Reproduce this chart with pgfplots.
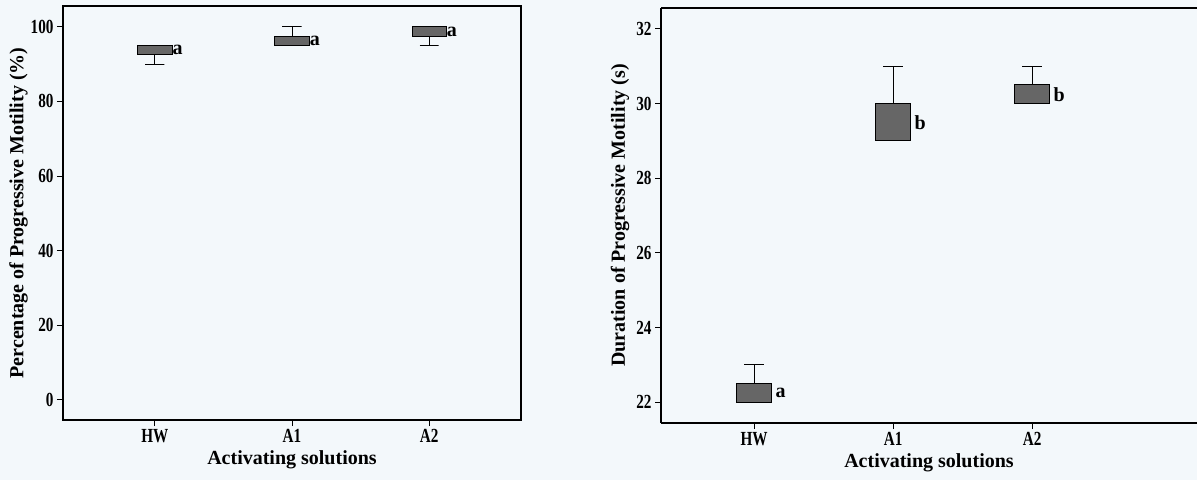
\documentclass[border=0pt]{standalone}
\usepackage{pgfplots}
\pgfplotsset{compat=1.18}
\usepackage{fontspec}
\setmainfont{Liberation Serif}
\newfontfamily\tickfont[FakeStretch=0.76]{Liberation Serif}
\definecolor{bg}{HTML}{F3F8FB}
\definecolor{boxfill}{HTML}{666666}
\tikzset{lt/.style={anchor=west, inner sep=1.5pt, font=\fontsize{20}{20}\selectfont\bfseries}}
\pgfplotsset{
  mystyle/.style={
    scale only axis,
    xmin=0.33,
    xtick={1,2,3}, xticklabels={HW,A1,A2},
    tick pos=left, tick align=outside,
    major tick length=6pt,
    minor tick num=0,
    tick style={black, line width=0.8pt},
    axis line style={black, line width=1.2pt},
    /pgf/number format/assume math mode=true,
    ticklabel style={font=\tickfont\fontsize{20}{20}\selectfont\bfseries},
    label style={font=\fontsize{20}{20}\selectfont\bfseries},
    xlabel={Activating solutions},
    xlabel style={yshift=-1pt},
  },
  bxs/.style={draw=black, fill=boxfill, line width=0.8pt},
  wks/.style={black, line width=0.8pt, mark=none},
}
\begin{document}
\begin{tikzpicture}
\fill[bg] (0pt,0pt) rectangle (1197pt,480pt);
% left panel
\begin{axis}[mystyle,
  at={(63pt,60pt)}, anchor=south west,
  width=458pt, height=414pt,
  xmax=3.67, ymin=-5.5, ymax=105.6,
  ytick={0,20,40,60,80,100},
  ylabel={Percentage of Progressive Motility (\%)},
  ylabel style={yshift=-4pt},
]
% HW: whisker 90, box 92.5-95
\addplot[wks] coordinates {(0.93,90) (1.07,90) (1,90) (1,92.5)};
\addplot[bxs] coordinates {(0.875,92.5) (1.125,92.5) (1.125,95) (0.875,95)} -- cycle;
% A1: box 95-97.5, whisker 100
\addplot[wks] coordinates {(1.93,100) (2.07,100) (2,100) (2,97.5)};
\addplot[bxs] coordinates {(1.875,95) (2.125,95) (2.125,97.5) (1.875,97.5)} -- cycle;
% A2: box 97.5-100, whisker 95
\addplot[wks] coordinates {(2.93,95) (3.07,95) (3,95) (3,97.5)};
\addplot[bxs] coordinates {(2.875,97.5) (3.125,97.5) (3.125,100) (2.875,100)} -- cycle;
\node[lt, inner sep=0.5pt] at (axis cs:1.125,93.75) {a};
\node[lt, inner sep=0.5pt] at (axis cs:2.125,96.25) {a};
\node[lt, inner sep=0.5pt] at (axis cs:3.125,98.75) {a};
\end{axis}
% right panel
\begin{axis}[mystyle,
  at={(661pt,57pt)}, anchor=south west,
  width=536pt, height=415pt,
  xmax=4.186, ymin=21.44, ymax=32.56,
  separate axis lines,
  axis x line*=box, axis y line*=left,
  x axis line style={-}, y axis line style={-},
  ytick={22,24,26,28,30,32},
  ylabel={Duration of Progressive Motility (s)},
]
% HW: box 22-22.5, whisker 23
\addplot[wks] coordinates {(0.93,23) (1.07,23) (1,23) (1,22.5)};
\addplot[bxs] coordinates {(0.875,22) (1.125,22) (1.125,22.5) (0.875,22.5)} -- cycle;
% A1: box 29-30, whisker 31
\addplot[wks] coordinates {(1.93,31) (2.07,31) (2,31) (2,30)};
\addplot[bxs] coordinates {(1.875,29) (2.125,29) (2.125,30) (1.875,30)} -- cycle;
% A2: box 30-30.5, whisker 31
\addplot[wks] coordinates {(2.93,31) (3.07,31) (3,31) (3,30.5)};
\addplot[bxs] coordinates {(2.875,30) (3.125,30) (3.125,30.5) (2.875,30.5)} -- cycle;
\node[lt, inner sep=4pt] at (axis cs:1.125,22.25) {a};
\node[lt, inner sep=4pt] at (axis cs:2.125,29.5) {b};
\node[lt, inner sep=4pt] at (axis cs:3.125,30.25) {b};
\end{axis}
\pgfresetboundingbox
\path[use as bounding box] (0pt,0pt) rectangle (1197pt,480pt);
\end{tikzpicture}
\end{document}
